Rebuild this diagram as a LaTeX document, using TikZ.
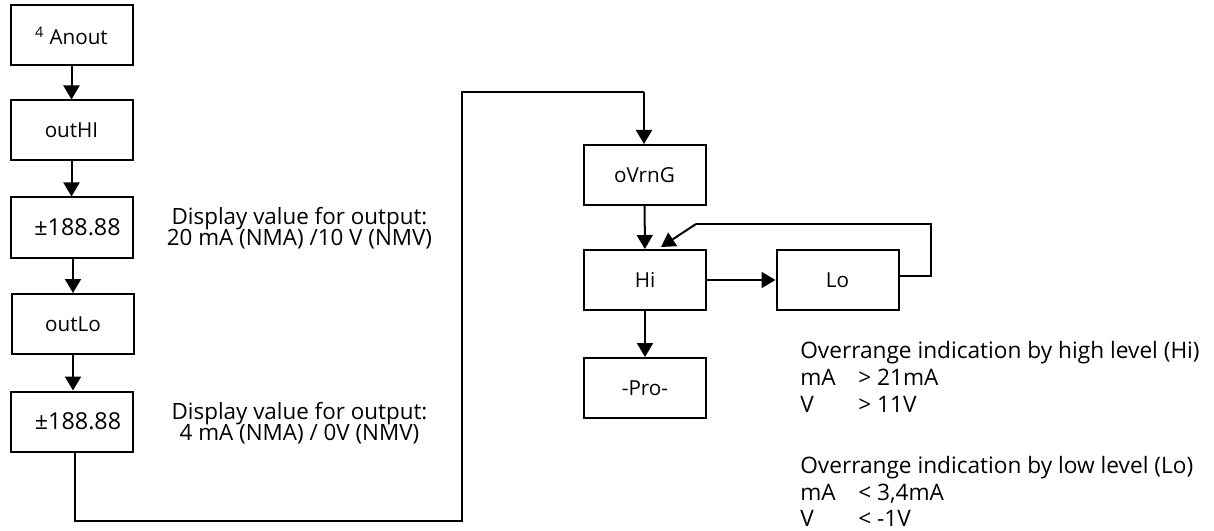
\documentclass[tikz,border=0pt]{standalone}
\usepackage{fontspec}
\setmainfont{Open Sans}
\usetikzlibrary{arrows.meta}
\begin{document}
\begin{tikzpicture}[x=0.75pt,y=-0.75pt,
  box/.style={draw,line width=1.5pt,minimum width=91.5pt,minimum height=45pt,inner sep=0pt,font=\fontsize{15.5}{18}\selectfont},
  arr/.style={line width=1.5pt,-{Triangle[length=10.5pt,width=12pt]}},
  thin/.style={line width=0.8pt},
  txt/.style={font=\fontsize{16.8}{18}\selectfont,inner sep=0pt,anchor=base},
  rtxt/.style={font=\fontsize{17}{20}\selectfont,inner sep=0pt,anchor=base west}]
\useasboundingbox (0,0) rectangle (1214,531);
\node[box] (anout) at (71.5,35.5) {\textsuperscript{4} Anout};
\node[box] (outhi) at (71.5,130.5) {outHI};
\node[box] (d1) at (71.5,227.5) {\hspace*{9pt}\fontsize{17.5}{18}\selectfont±188.88};
\node[box] (outlo) at (73,324) {outLo};
\node[box] (d2) at (72,421.5) {\hspace*{9pt}\fontsize{17.5}{18}\selectfont±188.88};
\node[box] (ovr) at (644.5,175) {oVrnG};
\node[box] (hi) at (645,280) {Hi};
\node[box] (lo) at (837.5,280) {Lo};
\node[box] (pro) at (645,388) {-Pro-};
\draw[arr] (anout) -- (outhi);
\draw[arr] (outhi) -- (d1);
\draw[arr] (d1.south -| outlo.north) -- (outlo.north);
\draw[arr] (outlo) -- (d2.north -| outlo.south);
\coordinate (c1) at (75,521);
\coordinate (c2) at (462,521);
\coordinate (c3) at (462,92);
\coordinate (c4) at (644,92);
\draw[thin] (d2.south -| c1) -- (c1) -- (c2) -- (c3) -- (c4);
\draw[arr] (c4) -- (ovr.north -| c4);
\draw[arr] (ovr) -- (hi);
\draw[arr] (hi) -- (lo);
\draw[arr] (hi) -- (pro);
\coordinate (l1) at (931,276);
\coordinate (l2) at (931,224);
\coordinate (l3) at (696,224);
\coordinate (l4) at (661,247);
\draw[thin] (lo.east |- l1) -- (l1) -- (l2) -- (l3);
\draw[arr] (l3) -- (l4);
\node[txt] (t1a) at (299.5,224) {Display value for output:};
\node[txt] (t1b) at (299.5,245) {20 mA (NMA) /10 V (NMV)};
\node[txt] (t2a) at (299.5,419) {Display value for output:};
\node[txt] (t2b) at (299.5,440) {4 mA (NMA) / 0V (NMV)};
\node[rtxt] (r1) at (800,358) {Overrange indication by high level (Hi)};
\node[rtxt] (r2) at (800,385) {\makebox[43.5pt][l]{mA}> 21mA};
\node[rtxt] (r3) at (800,412) {\makebox[43.5pt][l]{V}> 11V};
\node[rtxt] (r4) at (800,473) {Overrange indication by low level (Lo)};
\node[rtxt] (r5) at (800,500) {\makebox[43.5pt][l]{mA}< 3,4mA};
\node[rtxt] (r6) at (800,526) {\makebox[43.5pt][l]{V}< -1V};
\end{tikzpicture}
\end{document}
